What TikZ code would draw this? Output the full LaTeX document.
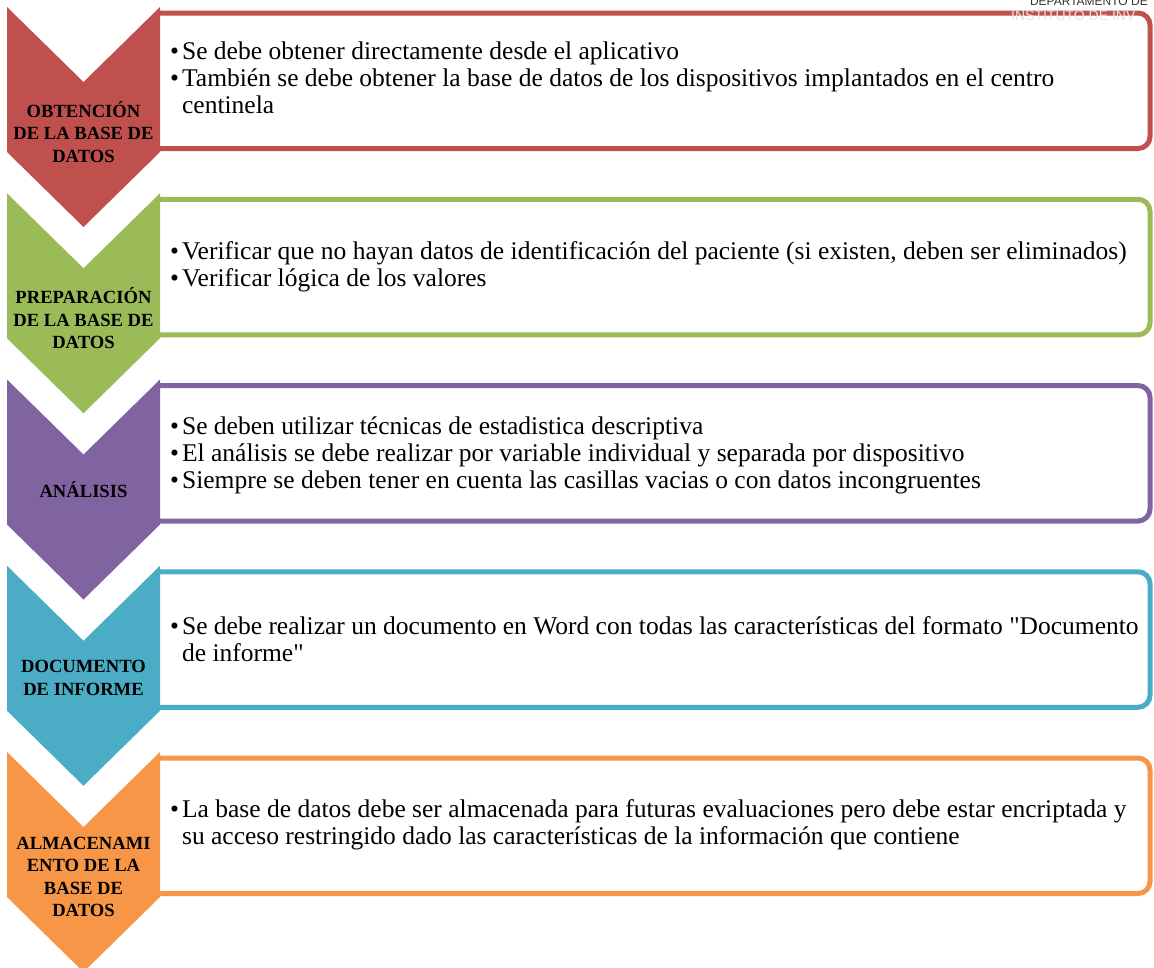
\documentclass[tikz,border=0pt]{standalone}
\usepackage{fontspec}
\setmainfont{Liberation Serif}[Ligatures=TeXOff]
\setsansfont{Liberation Sans}

\definecolor{rojo}{HTML}{C0504D}
\definecolor{verde}{HTML}{9BBB59}
\definecolor{morado}{HTML}{8064A2}
\definecolor{azul}{HTML}{4BACC6}
\definecolor{naranja}{HTML}{F79646}

% vinieta y sangria de las lineas que siguen
\newcommand{\vin}{\textbullet\hspace{3pt}}
\newcommand{\sng}{\hphantom{\vin}}

\begin{document}
\begin{tikzpicture}[x=1pt, y=-1pt,
    etiqueta/.style={font=\bfseries\fontsize{18.6}{22.5}\selectfont, align=center, inner sep=0pt},
    texto/.style={anchor=west, align=left, font=\fontsize{25.5}{27}\selectfont, inner sep=0pt},
    caja/.style={line width=5pt, fill=white, rounded corners=12pt},
    membrete/.style={font=\sffamily\fontsize{12}{12}\selectfont, inner sep=0pt}]
\useasboundingbox (0,0) rectangle (1154,967);

% flechas de cada paso con su caja (abierta por la izquierda)
\foreach \c/\t/\dy/\lab [count=\i] in {
    rojo/7/125/{OBTENCIÓN\\DE LA BASE DE\\DATOS},
    verde/193.25/125/{PREPARACIÓN\\DE LA BASE DE\\DATOS},
    morado/379.5/110/{ANÁLISIS},
    azul/565.75/112/{DOCUMENTO\\DE INFORME},
    naranja/752/125/{ALMACENAMI\\ENTO DE LA\\BASE DE\\DATOS}}{
  \draw[caja, draw=\c] (160,\t+6) -- (1150,\t+6) -- (1150,\t+141.5) -- (160,\t+141.5);
  \fill[\c] (7,\t) -- (83.5,\t+75) -- (160,\t) -- (160,\t+145)
      -- (83.5,\t+220) -- (7,\t+145) -- cycle;
  \node[etiqueta] (lab\i) at (83.5,\t+\dy) {\lab};
}

% textos de las cajas
\node[texto] (txt1) at (170,78) {\vin Se debe obtener directamente desde el aplicativo\\
  \vin También se debe obtener la base de datos de los dispositivos implantados en el centro\\
  \sng centinela};
\node[texto] (txt2) at (170,267) {\vin Verificar que no hayan datos de identificación del paciente (si existen, deben ser eliminados)\\
  \vin Verificar lógica de los valores};
\node[texto] (txt3) at (170,455) {\vin Se deben utilizar técnicas de estadistica descriptiva\\
  \vin El análisis se debe realizar por variable individual y separada por dispositivo\\
  \vin Siempre se deben tener en cuenta las casillas vacias o con datos incongruentes};
\node[texto] (txt4) at (170,639) {\vin Se debe realizar un documento en Word con todas las características del formato "Documento\\
  \sng de informe"};
\node[texto] (txt5) at (170,825) {\vin La base de datos debe ser almacenada para futuras evaluaciones pero debe estar encriptada y\\
  \sng su acceso restringido dado las características de la información que contiene};

% encabezado de la hoja
\node[membrete, text=black!80, anchor=base east] (depto) at (1148,5) {DEPARTAMENTO DE};
\node[membrete, font=\sffamily\fontsize{14}{14}\selectfont, text=black!10, anchor=base west] (inst) at (1011,20) {INSTITUTO DE INV};
\end{tikzpicture}
\end{document}
